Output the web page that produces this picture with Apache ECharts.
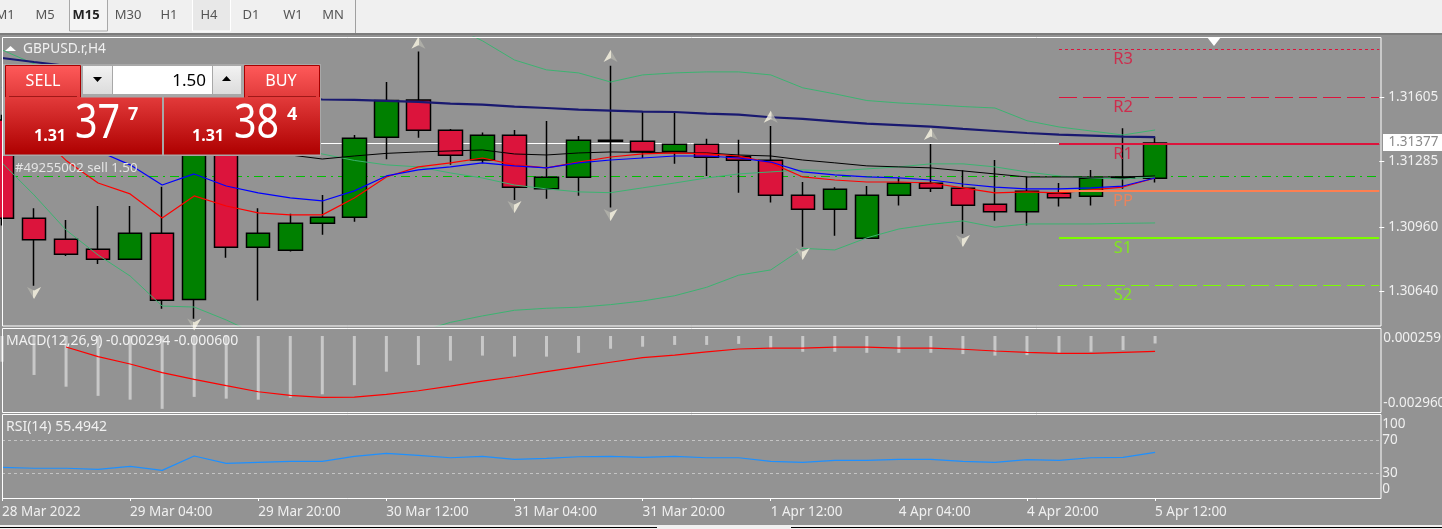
<!DOCTYPE html>
<html>
<head>
<meta charset="utf-8">
<title>GBPUSD.r,H4</title>
<style>
  html, body { margin: 0; padding: 0; background: #939393; overflow: hidden; }
  #main { width: 1442px; height: 529px; }
</style>
<script src="https://cdn.jsdelivr.net/npm/echarts@6/dist/echarts.min.js"></script>
</head>
<body>
<div id="main"></div>
<script>
// bars of the H4 chart
const categories = ['28 Mar 2022','28 Mar 16:00','28 Mar 20:00','29 Mar 00:00','29 Mar 04:00','29 Mar 08:00','29 Mar 12:00','29 Mar 16:00','29 Mar 20:00','30 Mar 00:00','30 Mar 04:00','30 Mar 08:00','30 Mar 12:00','30 Mar 16:00','30 Mar 20:00','31 Mar 00:00','31 Mar 04:00','31 Mar 08:00','31 Mar 12:00','31 Mar 16:00','31 Mar 20:00','1 Apr 00:00','1 Apr 04:00','1 Apr 08:00','1 Apr 12:00','1 Apr 16:00','1 Apr 20:00','4 Apr 00:00','4 Apr 04:00','4 Apr 08:00','4 Apr 12:00','4 Apr 16:00','4 Apr 20:00','5 Apr 00:00','5 Apr 04:00','5 Apr 08:00','5 Apr 12:00'];
const opens = [1.31491,1.31003,1.30899,1.30849,1.30800,1.30929,1.30601,1.31392,1.30859,1.30845,1.30978,1.31008,1.31405,1.31589,1.31440,1.31292,1.31415,1.31150,1.31207,1.31390,1.31385,1.31334,1.31370,1.31309,1.31291,1.31117,1.31048,1.30904,1.31117,1.31177,1.31152,1.31073,1.31036,1.31127,1.31112,1.31207,1.31202];
const closes = [1.31003,1.30897,1.30825,1.30800,1.30929,1.30597,1.31392,1.30859,1.30929,1.30978,1.31008,1.31400,1.31587,1.31440,1.31316,1.31415,1.31157,1.31207,1.31390,1.31385,1.31334,1.31370,1.31306,1.31291,1.31117,1.31048,1.31147,1.31117,1.31177,1.31152,1.31068,1.31036,1.31137,1.31105,1.31202,1.31202,1.31377];
const lows = [1.30967,1.30669,1.30816,1.30777,1.30800,1.30555,1.30505,1.30808,1.30595,1.30838,1.30922,1.30986,1.31296,1.31403,1.31268,1.31276,1.31094,1.31100,1.31115,1.31056,1.31302,1.31273,1.31213,1.31130,1.31081,1.30862,1.30917,1.30904,1.31066,1.31134,1.30927,1.30991,1.30967,1.31061,1.31066,1.31149,1.31180];
const highs = [1.31516,1.31053,1.30995,1.31064,1.31064,1.31160,1.31441,1.31420,1.31053,1.31025,1.31119,1.31416,1.31679,1.31830,1.31446,1.31428,1.31441,1.31486,1.31411,1.31759,1.31530,1.31529,1.31397,1.31392,1.31461,1.31183,1.31157,1.31163,1.31203,1.31372,1.31241,1.31292,1.31210,1.31178,1.31243,1.31450,1.31408];

// indicators on the price pane
const maSlow = [1.31798,1.31778,1.31759,1.31739,1.31719,1.31699,1.31674,1.31650,1.31630,1.31610,1.31592,1.31590,1.31585,1.31580,1.31572,1.31567,1.31557,1.31550,1.31542,1.31537,1.31532,1.31530,1.31522,1.31517,1.31504,1.31496,1.31484,1.31472,1.31465,1.31458,1.31446,1.31436,1.31426,1.31418,1.31413,1.31408,1.31406];
const maBlue = [1.31654,1.31565,1.31441,1.31337,1.31268,1.31168,1.31223,1.31163,1.31129,1.31104,1.31089,1.31139,1.31213,1.31243,1.31258,1.31278,1.31263,1.31253,1.31278,1.31292,1.31302,1.31312,1.31312,1.31302,1.31282,1.31233,1.31218,1.31208,1.31203,1.31193,1.31173,1.31158,1.31149,1.31149,1.31154,1.31163,1.31203];
const maRed = [1.31540,1.31441,1.31290,1.31178,1.31124,1.31005,1.31114,1.31064,1.31030,1.31020,1.31020,1.31104,1.31208,1.31258,1.31278,1.31302,1.31268,1.31253,1.31282,1.31307,1.31322,1.31327,1.31322,1.31312,1.31278,1.31208,1.31193,1.31183,1.31183,1.31178,1.31154,1.31129,1.31134,1.31129,1.31144,1.31158,1.31203];
const maBlack = [null,null,null,null,null,null,null,null,1.31342,1.31317,1.31297,1.31312,1.31325,1.31332,1.31337,1.31342,1.31322,1.31317,1.31327,1.31332,1.31330,1.31327,1.31327,1.31317,1.31312,1.31292,1.31278,1.31263,1.31258,1.31253,1.31238,1.31223,1.31208,1.31208,1.31208,1.31208,1.31213];
const bandUpper = [null,null,null,null,null,null,null,null,null,null,null,null,null,1.32036,1.31962,1.31883,1.31788,1.31739,1.31724,1.31679,1.31714,1.31724,1.31729,1.31729,1.31714,1.31650,1.31620,1.31587,1.31575,1.31567,1.31557,1.31550,1.31487,1.31456,1.31436,1.31416,1.31441];
const bandMiddle = [1.31838,1.31769,1.31714,1.31664,1.31615,1.31565,1.31516,1.31466,1.31416,1.31357,1.31322,1.31290,1.31268,1.31258,1.31228,1.31203,1.31168,1.31149,1.31134,1.31130,1.31154,1.31178,1.31203,1.31223,1.31233,1.31243,1.31238,1.31248,1.31258,1.31273,1.31273,1.31258,1.31233,1.31213,1.31203,1.31198,1.31208];
const bandLower = [1.31278,1.31119,1.30945,1.30821,1.30717,1.30568,1.30563,1.30499,1.30424,1.30375,1.30350,1.30360,1.30400,1.30439,1.30487,1.30519,1.30547,1.30557,1.30562,1.30575,1.30593,1.30619,1.30661,1.30721,1.30747,1.30854,1.30846,1.30906,1.30950,1.30973,1.30990,1.30959,1.30975,1.30975,1.30975,1.30978,1.30980];
const fractalsUp = [[13,1.31873],[19,1.31808],[24,1.31506],[29,1.31421]];
const fractalsDown = [[1,1.30633],[6,1.30476],[16,1.31059],[19,1.31020],[25,1.30826],[30,1.30891]];

// pivot levels, order and current price
const levelNames = ['R3','R2','R1','PP','S1','S2'];
const levelValues = [1.31841,1.31603,1.31372,1.31139,1.30906,1.30671];
const orderPrice = 1.31212;
const currentPrice = 1.31377;
const priceTicks = [1.31605,1.31285,1.30960,1.30640];

// MACD(12,26,9)
const macdHist = [-0.00101,-0.00153,-0.00199,-0.00235,-0.00250,-0.00286,-0.00239,-0.00246,-0.00250,-0.00242,-0.00229,-0.00193,-0.00140,-0.00114,-0.00097,-0.00077,-0.00081,-0.00081,-0.00066,-0.00050,-0.00042,-0.00035,-0.00035,-0.00031,-0.00048,-0.00062,-0.00062,-0.00066,-0.00066,-0.00066,-0.00071,-0.00077,-0.00075,-0.00066,-0.00062,-0.00055,-0.000294];
const macdSignal = [null,null,-0.00043,-0.00081,-0.00110,-0.00144,-0.00170,-0.00195,-0.00219,-0.00233,-0.00241,-0.00240,-0.00229,-0.00215,-0.00197,-0.00177,-0.00160,-0.00140,-0.00121,-0.00103,-0.00085,-0.00075,-0.00062,-0.00051,-0.00048,-0.00048,-0.00044,-0.00044,-0.00048,-0.00048,-0.00052,-0.00059,-0.00064,-0.00068,-0.00068,-0.00064,-0.00060];
const macdTicks = [0.000259,-0.00296];

// RSI(14)
const rsiValues = [37.3,36.1,36.1,34.8,38.5,33.6,51.0,42.1,43.3,44.5,44.5,50.6,54.2,51.8,48.9,50.6,47.0,48.2,50.1,50.6,49.4,50.6,48.9,48.9,44.5,43.3,45.8,45.8,47.0,47.0,44.5,43.3,46.5,45.8,48.9,49.4,55.4942];
const rsiTicks = [100,70,30,0];
const rsiLevels = [70,30];

const timeframes = ['M1','M5','M15','M30','H1','H4','D1','W1','MN'];
const timeframeX = [5,45,86,128,169,209,251,293,333];

const BG = '#939393';
const FONT = '"Noto Sans", sans-serif';
const CRIMSON = '#DC143C';
const CORAL = '#FF7F50';
const LAWN = '#7CFC00';
const levelColors = [CRIMSON, CRIMSON, CRIMSON, CORAL, LAWN, LAWN];
const levelTypes = [[3, 3], [18, 6], 'solid', 'solid', 'solid', [18, 6]];
const levelWidths = [1, 1, 2, 2, 2, 1];

// the chart keeps running room on the right of the last bar
const xLabels = categories.concat(Array(7).fill(''));
const lastIdx = categories.length - 1;
const endIdx = xLabels.length - 1;
const LEFT = 2;
const PLOT_W = 1377.3;
const BAND = PLOT_W / endIdx;

function rect(x, y, w, h, fill, stroke, z) {
  return { type: 'rect', shape: { x, y, width: w, height: h }, style: { fill: fill || 'transparent', stroke: stroke || null, lineWidth: 1 }, z: z == null ? 100 : z, silent: true };
}
function text(str, x, y, size, fill, opts) {
  opts = opts || {};
  const el = { type: 'text', z: opts.z == null ? 102 : opts.z, silent: true, style: { text: str, x, y, fill, font: (opts.weight || 'normal') + ' ' + size + 'px ' + FONT, textAlign: opts.align || 'left', textVerticalAlign: 'middle' } };
  if (opts.scaleX) {
    el.scaleX = opts.scaleX;
    el.originX = x;
    el.originY = y;
  }
  return el;
}
function tri(points, fill, z) {
  return { type: 'polygon', shape: { points }, style: { fill }, z: z == null ? 102 : z, silent: true };
}
function vGrad(top, bottom) {
  return { type: 'linear', x: 0, y: 0, x2: 0, y2: 1, colorStops: [{ offset: 0, color: top }, { offset: 1, color: bottom }] };
}

function toolbar() {
  const els = [
    rect(0, 0, 1442, 33, '#f0f0f0', null, 90),
    rect(0, 33, 1442, 2, '#7c7c7c', null, 90),
    rect(69.5, -1, 38, 32, '#f4f4f4', '#a8a8a8', 91),
    rect(192.5, -1, 38, 32, '#e8e8e8', '#ffffff', 91),
    rect(355, 0, 1, 33, '#a0a0a0', null, 91)
  ];
  timeframes.forEach(function (t, i) {
    els.push(text(t, timeframeX[i], 15, 13, t === 'M15' ? '#222' : '#555', { align: 'center', weight: t === 'M15' ? 'bold' : 'normal' }));
  });
  return els;
}

function tradePanel() {
  return [
    rect(3, 64, 318, 92, '#a8a8a8', null, 100),
    rect(5.5, 65.5, 75, 32, vGrad('#ff5a5a', '#e03a3a'), '#a80000', 101),
    rect(244.5, 65.5, 75, 32, vGrad('#ff5a5a', '#e03a3a'), '#a80000', 101),
    rect(9, 96, 68, 1, '#a01818', null, 102),
    rect(248, 96, 68, 1, '#a01818', null, 102),
    rect(5, 97.5, 157, 57, vGrad('#e23a3a', '#ae0000'), null, 101),
    rect(164, 97.5, 156, 57, vGrad('#e23a3a', '#ae0000'), null, 101),
    rect(5, 97, 76, 2, '#e23a3a', null, 101),
    rect(245, 97, 75, 2, '#e23a3a', null, 101),
    rect(83, 66, 29, 28, vGrad('#f2f2f2', '#dcdcdc'), null, 101),
    rect(113, 66, 99, 28, '#ffffff', null, 101),
    rect(213, 66, 28, 28, vGrad('#f2f2f2', '#dcdcdc'), null, 101),
    tri([[93, 77], [102, 77], [97.5, 82]], '#000'),
    tri([[222, 81], [231, 81], [226.5, 76]], '#000'),
    text('SELL', 43, 81.5, 17, '#ffffff', { align: 'center', scaleX: 0.95 }),
    text('BUY', 281, 81.5, 17, '#ffffff', { align: 'center', scaleX: 0.95 }),
    text('1.50', 206, 81, 17, '#000000', { align: 'right' }),
    text('1.31', 34, 136, 16, '#ffffff', { weight: 'bold' }),
    text('37', 75, 125, 47, '#ffffff', { scaleX: 0.84 }),
    text('7', 128, 115, 18, '#ffffff', { weight: 'bold' }),
    text('1.31', 192, 136, 16, '#ffffff', { weight: 'bold' }),
    text('38', 234, 125, 47, '#ffffff', { scaleX: 0.84 }),
    text('4', 287, 115, 18, '#ffffff', { weight: 'bold' })
  ];
}

function framesAndLabels() {
  return [
    rect(2.5, 37.5, 1378.5, 288.5, null, '#ffffff', 60),
    rect(2.5, 328.5, 1378.5, 84, null, '#ffffff', 60),
    rect(2.5, 414.5, 1378.5, 84, null, '#ffffff', 60),
    rect(1383, 134, 59, 17, '#ffffff', null, 60),
    text(currentPrice.toFixed(5), 1388.5, 142.5, 13.5, '#8a8a8a', { z: 61 }),
    tri([[1207, 37], [1221, 37], [1214, 46]], '#ffffff', 61),
    tri([[5, 51], [16, 51], [10.5, 46]], '#ffffff', 61),
    text('GBPUSD.r,H4', 23, 49, 13.7, '#f0f0f0', { z: 61 }),
    text('#49255002 sell 1.50', 15, 168, 13.2, '#e4e4e4', { z: 61 }),
    text('MACD(12,26,9) -0.000294 -0.000600', 6, 341.5, 14, '#f0f0f0', { z: 61 }),
    text('RSI(14) 55.4942', 6, 427.5, 14, '#f0f0f0', { z: 61 }),
    rect(0, 525, 1442, 4, '#f0f0f0', null, 90),
    rect(0, 527, 657, 1, '#000000', null, 91),
    rect(791, 527, 651, 1, '#000000', null, 91)
  ];
}

function line(name, data, color, width, z) {
  return { name, type: 'line', data, xAxisIndex: 0, yAxisIndex: 0, showSymbol: false, lineStyle: { color, width }, z: z || 3, silent: true };
}
function fullLine(value, lineStyle) {
  return [{ xAxis: 0, yAxis: value, lineStyle }, { xAxis: endIdx, yAxis: value }];
}

const ARROW = 'path://M6,0 L12,10 L6,7 L0,10 Z';
const arrowFill = {
  type: 'linear', x: 0, y: 0, x2: 1, y2: 0,
  colorStops: [{ offset: 0, color: '#fbf7e4' }, { offset: 0.55, color: '#fbf7e4' }, { offset: 0.56, color: '#b4b4ac' }, { offset: 1, color: '#b4b4ac' }]
};

const levelLines = levelNames.map(function (n, i) {
  return [
    { xAxis: 33, yAxis: levelValues[i], lineStyle: { color: levelColors[i], width: levelWidths[i], type: levelTypes[i] } },
    { xAxis: endIdx, yAxis: levelValues[i] }
  ];
});

const option = {
  animation: false,
  backgroundColor: BG,
  textStyle: { fontFamily: FONT },
  grid: [
    { left: LEFT, top: 37, width: PLOT_W, height: 289, outerBoundsMode: 'none' },
    // the MACD bars need a band axis, so this grid starts half a band earlier
    { left: LEFT - BAND / 2, top: 328, width: PLOT_W + BAND, height: 84, outerBoundsMode: 'none' },
    { left: LEFT, top: 414, width: PLOT_W, height: 84, outerBoundsMode: 'none' }
  ],
  xAxis: [
    { type: 'category', gridIndex: 0, data: xLabels, boundaryGap: false, show: false },
    { type: 'category', gridIndex: 1, data: xLabels, boundaryGap: true, show: false },
    {
      type: 'category', gridIndex: 2, data: xLabels, boundaryGap: false,
      axisLine: { show: false },
      axisTick: { show: true, length: 3, alignWithLabel: true, lineStyle: { color: '#ffffff' }, interval: function (i) { return i % 4 === 0 && i <= lastIdx; } },
      axisLabel: { color: '#f0f0f0', fontSize: 13.5, align: 'left', margin: 7, interval: function (i) { return i % 4 === 0 && i <= lastIdx; } }
    }
  ],
  yAxis: [
    {
      type: 'value', gridIndex: 0, position: 'right', min: 1.30469, max: 1.31902, scale: true,
      splitLine: { show: false }, axisLine: { show: false },
      axisTick: { show: true, length: 5, customValues: priceTicks, lineStyle: { color: '#ffffff' } },
      axisLabel: {
        margin: 9, fontSize: 13.5, color: '#f0f0f0', customValues: priceTicks,
        formatter: function (v) { return v.toFixed(5); }
      }
    },
    {
      type: 'value', gridIndex: 1, position: 'right', offset: -BAND / 2, min: -0.002984, max: 0.000314,
      splitLine: { show: false }, axisLine: { show: false }, axisTick: { show: false },
      axisLabel: {
        margin: 4, fontSize: 13.5, color: '#f0f0f0', customValues: macdTicks,
        formatter: function (v) { return v > 0 ? '{t|' + v.toFixed(6) + '}' : '{b|' + v.toFixed(6) + '}'; },
        rich: { t: { padding: [17, 0, 0, 0], fontSize: 13.5, color: '#f0f0f0' }, b: { padding: [0, 0, 17, 0], fontSize: 13.5, color: '#f0f0f0' } }
      }
    },
    {
      type: 'value', gridIndex: 2, position: 'right', min: 0, max: 102,
      splitLine: { show: false }, axisLine: { show: false }, axisTick: { show: false },
      axisLabel: {
        margin: 3, fontSize: 13.5, color: '#f0f0f0', customValues: rsiTicks,
        formatter: function (v) { return v === 100 ? '{t|100}' : v === 0 ? '{b|0}' : String(v); },
        rich: { t: { padding: [18, 0, 0, 0], fontSize: 13.5, color: '#f0f0f0' }, b: { padding: [0, 0, 18, 0], fontSize: 13.5, color: '#f0f0f0' } }
      }
    }
  ],
  series: [
    {
      name: 'Lines under bars', type: 'line', data: [], xAxisIndex: 0, yAxisIndex: 0, silent: true, z: 1,
      markLine: {
        silent: true, symbol: 'none', z: 1, label: { show: false }, animation: false,
        data: [
          fullLine(currentPrice, { color: '#ffffff', width: 1, type: 'solid' }),
          fullLine(orderPrice, { color: '#00C000', width: 1, type: [9, 5, 2, 5] })
        ]
      }
    },
    {
      name: 'GBPUSD.r', type: 'candlestick', xAxisIndex: 0, yAxisIndex: 0, z: 2, silent: true, barWidth: 24,
      data: opens.map(function (o, i) { return [o, closes[i], lows[i], highs[i]]; }),
      itemStyle: { color: '#008000', color0: CRIMSON, borderColor: '#000000', borderColor0: '#000000', borderWidth: 1.5 }
    },
    line('Bands upper', bandUpper, '#3CB371', 1),
    line('Bands middle', bandMiddle, '#3CB371', 1),
    line('Bands lower', bandLower, '#3CB371', 1),
    line('MA black', maBlack, '#000000', 1),
    line('MA slow', maSlow, '#191970', 2.2),
    line('MA red', maRed, '#FF0000', 1.2),
    line('MA blue', maBlue, '#0000FF', 1.2),
    {
      name: 'Fractals up', type: 'scatter', xAxisIndex: 0, yAxisIndex: 0, data: fractalsUp, symbol: ARROW, symbolKeepAspect: false, symbolSize: [14, 12], z: 4, silent: true,
      itemStyle: { color: arrowFill }
    },
    {
      name: 'Fractals down', type: 'scatter', xAxisIndex: 0, yAxisIndex: 0, data: fractalsDown, symbol: ARROW, symbolKeepAspect: false, symbolRotate: 180, symbolSize: [14, 12], z: 4, silent: true,
      itemStyle: { color: arrowFill }
    },
    {
      name: 'Pivot lines', type: 'line', data: [], xAxisIndex: 0, yAxisIndex: 0, silent: true, z: 5,
      markLine: { silent: true, symbol: 'none', z: 5, label: { show: false }, animation: false, data: levelLines }
    },
    {
      name: 'Pivot labels', type: 'scatter', xAxisIndex: 0, yAxisIndex: 0, symbolSize: 0, z: 5, silent: true,
      data: levelNames.map(function (n, i) {
        return {
          name: n, value: [35, levelValues[i]],
          label: { show: true, position: 'inside', offset: [0, 10], formatter: n, color: levelColors[i], fontSize: 16.5 }
        };
      })
    },
    {
      name: 'MACD', type: 'bar', xAxisIndex: 1, yAxisIndex: 1, data: macdHist, barWidth: 3, silent: true,
      itemStyle: { color: '#c8c8c8' }
    },
    {
      name: 'Signal', type: 'line', xAxisIndex: 1, yAxisIndex: 1, data: macdSignal, showSymbol: false, silent: true,
      lineStyle: { color: '#FF0000', width: 1.2 }
    },
    {
      name: 'RSI', type: 'line', xAxisIndex: 2, yAxisIndex: 2, data: rsiValues, showSymbol: false, silent: true,
      lineStyle: { color: '#1E90FF', width: 1.2 },
      markLine: {
        silent: true, symbol: 'none', label: { show: false }, animation: false,
        lineStyle: { color: '#c4c4c4', width: 1, type: [3, 3] },
        data: rsiLevels.map(function (v) { return { yAxis: v }; })
      }
    }
  ],
  graphic: { elements: toolbar().concat(framesAndLabels(), tradePanel()) }
};

const chart = echarts.init(document.getElementById('main'));
chart.setOption(option);
</script>
</body>
</html>
